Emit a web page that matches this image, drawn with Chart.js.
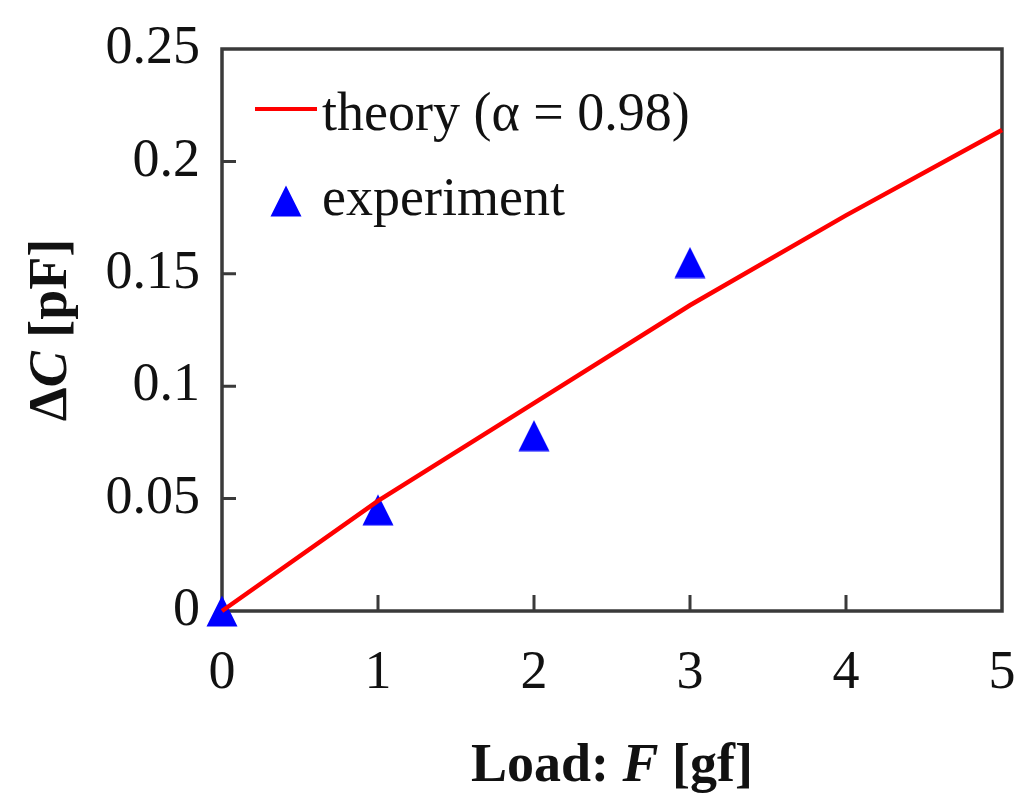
<!DOCTYPE html>
<html>
<head>
<meta charset="utf-8">
<style>
  html, body { margin: 0; padding: 0; background: #fff; }
  #wrap { width: 1024px; height: 809px; }
</style>
<script src="https://cdn.jsdelivr.net/npm/chart.js@4.4.0/dist/chart.umd.min.js"></script>
</head>
<body>
<div id="wrap"><canvas id="chart" width="1024" height="809"></canvas></div>
<script>
// data
const theoryLoads = [0, 1, 2, 3, 4, 5];
const theoryValues = [0, 0.049, 0.0925, 0.136, 0.176, 0.214];
const expLoads = [0, 1, 2, 3];
const expValues = [0, 0.045, 0.078, 0.155];
const xTickValues = [0, 1, 2, 3, 4, 5];
const yTickValues = [0, 0.05, 0.1, 0.15, 0.2, 0.25];
const yTickLabels = ['0', '0.05', '0.1', '0.15', '0.2', '0.25'];

const SERIF = '"Liberation Serif", "DejaVu Serif", serif';
const FRAME = '#3a3a3a';

// triangle marker centred on its bounding box (like the original)
function makeTriangle(size, color) {
  const c = document.createElement('canvas');
  c.width = size; c.height = size;
  const g = c.getContext('2d');
  g.fillStyle = color;
  g.beginPath();
  g.moveTo(size / 2, 0.5);
  g.lineTo(size - 0.5, size - 0.5);
  g.lineTo(0.5, size - 0.5);
  g.closePath();
  g.fill();
  return c;
}
const tri = makeTriangle(32, '#0000ff');

// draw text made of runs with different styles
function drawRuns(ctx, runs, x, y, align) {
  let total = 0;
  runs.forEach(r => { ctx.font = r.font; total += ctx.measureText(r.text).width; });
  let cx = align === 'center' ? x - total / 2 : x;
  ctx.textAlign = 'left';
  runs.forEach(r => {
    ctx.font = r.font;
    ctx.fillText(r.text, cx, y);
    cx += ctx.measureText(r.text).width;
  });
}

const framePlugin = {
  id: 'frame',
  beforeDatasetsDraw(chart) {
    const { ctx, chartArea: a, scales } = chart;
    ctx.save();
    ctx.strokeStyle = FRAME;
    ctx.lineWidth = 3.5;
    ctx.strokeRect(a.left, a.top, a.right - a.left, a.bottom - a.top);
    // inward ticks
    ctx.lineWidth = 3;
    ctx.beginPath();
    xTickValues.slice(1, -1).forEach(v => {
      const px = scales.x.getPixelForValue(v);
      ctx.moveTo(px, a.bottom);
      ctx.lineTo(px, a.bottom - 16);
    });
    yTickValues.slice(1, -1).forEach(v => {
      const py = scales.y.getPixelForValue(v);
      ctx.moveTo(a.left, py);
      ctx.lineTo(a.left + 14, py);
    });
    ctx.stroke();
    ctx.restore();
  },
  afterDraw(chart) {
    const { ctx, chartArea: a } = chart;
    ctx.save();
    // legend inside plot
    const ds = chart.data.datasets;
    ctx.fillStyle = '#111';
    ctx.textBaseline = 'alphabetic';
    ctx.font = '54px ' + SERIF;
    ctx.strokeStyle = ds[0].borderColor;
    ctx.lineWidth = 4;
    ctx.beginPath();
    ctx.moveTo(a.left + 33, 109);
    ctx.lineTo(a.left + 95, 109);
    ctx.stroke();
    ctx.fillText(ds[0].label, a.left + 100, 130);
    ctx.drawImage(tri, a.left + 48, 185);
    ctx.fillText(ds[1].label, a.left + 100, 215);

    // axis titles
    const bold = 'bold 54px ' + SERIF;
    const boldIt = 'italic bold 54px ' + SERIF;
    drawRuns(ctx, [
      { text: 'Load: ', font: bold },
      { text: 'F', font: boldIt },
      { text: ' [gf]', font: bold }
    ], (a.left + a.right) / 2, 781, 'center');

    ctx.translate(66, (a.top + a.bottom) / 2);
    ctx.rotate(-Math.PI / 2);
    drawRuns(ctx, [
      { text: 'Δ', font: bold },
      { text: 'C', font: boldIt },
      { text: ' [pF]', font: bold }
    ], 0, 0, 'center');
    ctx.restore();
  }
};

new Chart(document.getElementById('chart'), {
  type: 'scatter',
  data: {
    datasets: [
      {
        label: 'theory (α = 0.98)',
        data: theoryLoads.map((x, i) => ({ x, y: theoryValues[i] })),
        showLine: true,
        borderColor: '#ff0000',
        backgroundColor: '#ff0000',
        borderWidth: 4.5,
        pointRadius: 0,
        tension: 0,
        clip: false
      },
      {
        label: 'experiment',
        data: expLoads.map((x, i) => ({ x, y: expValues[i] })),
        pointStyle: tri,
        borderColor: '#0000ff',
        backgroundColor: '#0000ff',
        showLine: false,
        clip: false
      }
    ]
  },
  options: {
    responsive: false,
    animation: false,
    devicePixelRatio: 1,
    layout: { padding: { top: 49, right: 22, left: 0, bottom: 0 } },
    plugins: { legend: { display: false }, tooltip: { enabled: false } },
    scales: {
      x: {
        type: 'linear', min: 0, max: 5,
        afterBuildTicks: s => { s.ticks = xTickValues.map(v => ({ value: v })); },
        afterFit: s => { s.height = 198; s.paddingLeft = 0; s.paddingRight = 0; },
        grid: { display: false, drawTicks: false },
        border: { display: false },
        ticks: { color: '#111', padding: 30, font: { family: SERIF, size: 54 } }
      },
      y: {
        type: 'linear', min: 0, max: 0.25,
        afterBuildTicks: s => { s.ticks = yTickValues.map(v => ({ value: v })); },
        afterFit: s => { s.width = 222; s.paddingTop = 0; s.paddingBottom = 0; },
        grid: { display: false, drawTicks: false },
        border: { display: false },
        ticks: {
          color: '#111', padding: 22, font: { family: SERIF, size: 54 },
          callback: (v, i) => yTickLabels[i]
        }
      }
    }
  },
  plugins: [framePlugin]
});
</script>
</body>
</html>
